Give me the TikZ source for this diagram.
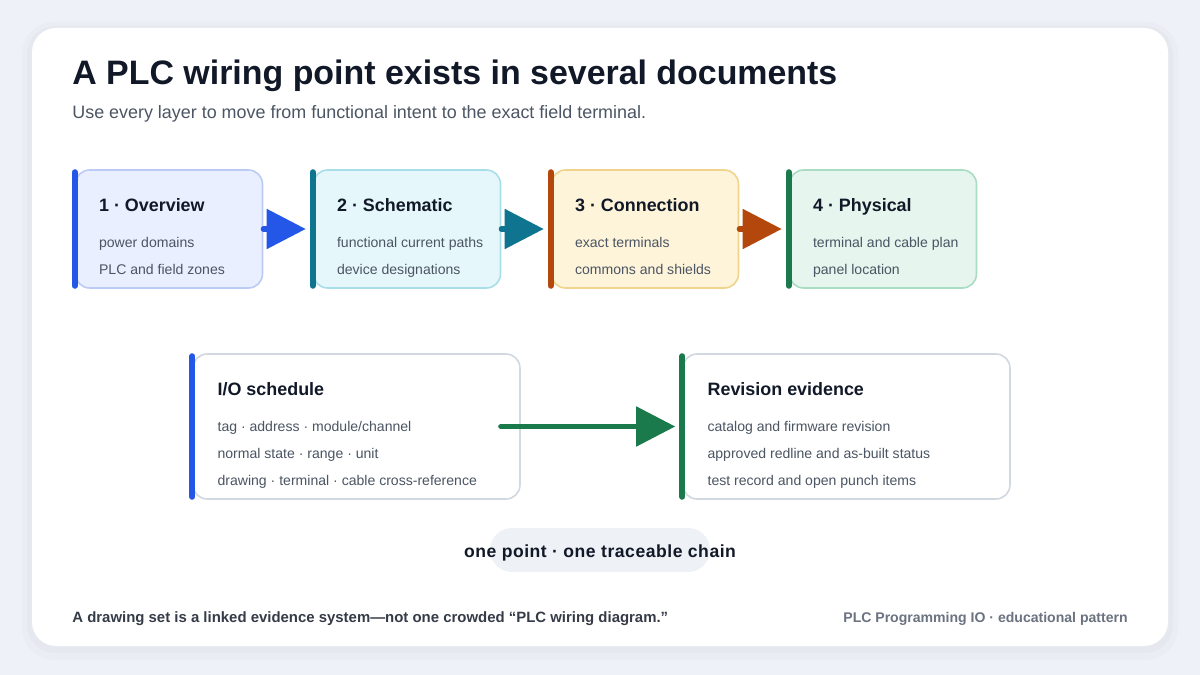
\documentclass[tikz,border=0pt]{standalone}
\usepackage{fontspec}
\setmainfont{Liberation Sans}
\usetikzlibrary{positioning, arrows.meta, calc}
\definecolor{pagebg}{HTML}{EEF2F8}
\definecolor{ink}{HTML}{111827}
\definecolor{muted}{HTML}{4B5563}
\definecolor{soft}{HTML}{6B7280}
\definecolor{frameline}{HTML}{D1D8E0}
\definecolor{pillbg}{HTML}{EEF1F5}
\definecolor{ovBar}{HTML}{2456E8}
\definecolor{ovFill}{HTML}{E9EFFE}
\definecolor{ovLine}{HTML}{BCCBF6}
\definecolor{scBar}{HTML}{0E7490}
\definecolor{scFill}{HTML}{E6F7FB}
\definecolor{scLine}{HTML}{A8DEEA}
\definecolor{cnBar}{HTML}{B4470B}
\definecolor{cnFill}{HTML}{FEF4DA}
\definecolor{cnLine}{HTML}{F0D48C}
\definecolor{phBar}{HTML}{1A7A4C}
\definecolor{phFill}{HTML}{E6F5EE}
\definecolor{phLine}{HTML}{AADCC3}
\tikzset{
  sheet/.style    ={fill=white, rounded corners=0.48cm},
  stage/.style    ={rectangle, rounded corners=0.28cm, line width=0.9pt,
                    minimum width=3.74cm, minimum height=2.36cm, inner sep=0pt},
  record/.style   ={stage, fill=white, draw=frameline,
                    minimum width=6.54cm, minimum height=2.9cm},
  bar/.style      ={line width=3.4pt, line cap=round, shorten <=1.7pt, shorten >=1.7pt},
  flow/.style     ={-{Triangle[length=0.78cm, width=0.78cm]}, line width=2.9pt,
                    line cap=round, shorten >=4pt},
  headline/.style ={anchor=base west, inner sep=0pt, text=ink,
                    font=\bfseries\fontsize{19.3}{22}\selectfont},
  subline/.style  ={anchor=base west, inner sep=0pt, text=muted,
                    font=\fontsize{10.2}{12}\selectfont},
  boxtitle/.style ={anchor=base west, inner sep=0pt, text=ink,
                    font=\bfseries\fontsize{10.2}{12}\selectfont},
  item/.style     ={anchor=base west, inner sep=0pt, text=muted,
                    font=\fontsize{8}{9.5}\selectfont},
  pill/.style     ={rectangle, rounded corners=0.44cm, fill=pillbg,
                    minimum width=4.4cm, minimum height=0.88cm, inner sep=0pt},
  foot/.style     ={inner sep=0pt, font=\bfseries\fontsize{8}{9.5}\selectfont},
}
\begin{document}
\begin{tikzpicture}[x=0.02cm, y=-0.02cm]
\useasboundingbox (0,0) rectangle (1200,675);

% --- backdrop and card ---
\fill[pagebg] (0,0) rectangle (1200,675);
\fill[black, opacity=0.015, rounded corners=0.64cm] (22,22) rectangle (1178,660);
\fill[black, opacity=0.02, rounded corners=0.56cm] (27,26) rectangle (1173,653);
\fill[sheet] (32,28) rectangle (1168,646);

% --- heading ---
\node[headline] (title) at (72,85) {A PLC wiring point exists in several documents};
\node[subline] (subtitle) at (72,119)
  {Use every layer to move from functional intent to the exact field terminal.};

% --- document layers ---
\node[stage, fill=ovFill, draw=ovLine] (ov) at (169,229) {};
\draw[bar, ovBar] (ov.north west) -- (ov.south west);
\node[boxtitle] (ovT) at ($(ov.north west)+(24,42.5)$) {1 · Overview};
\node[item] (ovA) at ($(ov.north west)+(24,78)$) {power domains};
\node[item] (ovB) at ($(ov.north west)+(24,105)$) {PLC and field zones};

\node[stage, fill=scFill, draw=scLine] (sc) at (407,229) {};
\draw[bar, scBar] (sc.north west) -- (sc.south west);
\node[boxtitle] (scT) at ($(sc.north west)+(24,42.5)$) {2 · Schematic};
\node[item] (scA) at ($(sc.north west)+(24,78)$) {functional current paths};
\node[item] (scB) at ($(sc.north west)+(24,105)$) {device designations};

\node[stage, fill=cnFill, draw=cnLine] (cn) at (645,229) {};
\draw[bar, cnBar] (cn.north west) -- (cn.south west);
\node[boxtitle] (cnT) at ($(cn.north west)+(24,42.5)$) {3 · Connection};
\node[item] (cnA) at ($(cn.north west)+(24,78)$) {exact terminals};
\node[item] (cnB) at ($(cn.north west)+(24,105)$) {commons and shields};

\node[stage, fill=phFill, draw=phLine] (ph) at (883,229) {};
\draw[bar, phBar] (ph.north west) -- (ph.south west);
\node[boxtitle] (phT) at ($(ph.north west)+(24,42.5)$) {4 · Physical};
\node[item] (phA) at ($(ph.north west)+(24,78)$) {terminal and cable plan};
\node[item] (phB) at ($(ph.north west)+(24,105)$) {panel location};

\draw[flow, ovBar] (ov.east) -- (sc.west);
\draw[flow, scBar] (sc.east) -- (cn.west);
\draw[flow, cnBar] (cn.east) -- (ph.west);

% --- records ---
\node[record] (io) at (356.5,426.5) {};
\draw[bar, ovBar] (io.north west) -- (io.south west);
\node[boxtitle] (ioT) at ($(io.north west)+(25,42.5)$) {I/O schedule};
\node[item] (ioA) at ($(io.north west)+(25,78)$) {tag · address · module/channel};
\node[item] (ioB) at ($(io.north west)+(25,105)$) {normal state · range · unit};
\node[item] (ioC) at ($(io.north west)+(25,132)$) {drawing · terminal · cable cross-reference};

\node[record] (rev) at (846.5,426.5) {};
\draw[bar, phBar] (rev.north west) -- (rev.south west);
\node[boxtitle] (revT) at ($(rev.north west)+(25,42.5)$) {Revision evidence};
\node[item] (revA) at ($(rev.north west)+(25,78)$) {catalog and firmware revision};
\node[item] (revB) at ($(rev.north west)+(25,105)$) {approved redline and as-built status};
\node[item] (revC) at ($(rev.north west)+(25,132)$) {test record and open punch items};

\draw[flow, phBar] ($(io.east)+(-20,0)$) -- (rev.west);

% --- chain note ---
\node[pill] (chainbg) at (600,550) {};
\node[foot, anchor=base, text=ink, font=\bfseries\fontsize{10}{12}\selectfont] (chain) at (600,557)
  {\addfontfeature{LetterSpace=3}one point · one traceable chain};

% --- footer ---
\node[foot, anchor=base west, text=ink!85, font=\bfseries\fontsize{8.5}{10}\selectfont] (note) at (72,622)
  {A drawing set is a linked evidence system—not one crowded “PLC wiring diagram.”};
\node[foot, anchor=base east, text=soft] (brand) at (1128,622)
  {PLC Programming IO · educational pattern};

\end{tikzpicture}
\end{document}
